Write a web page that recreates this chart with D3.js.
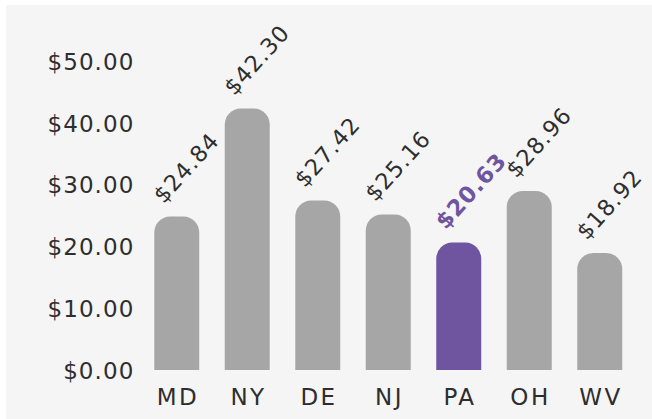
<!DOCTYPE html>
<html>
<head>
<meta charset="utf-8">
<script src="https://cdn.jsdelivr.net/npm/d3@7"></script>
<style>
  html, body { margin: 0; padding: 0; background: #ffffff; }
  svg { display: block; }
</style>
</head>
<body>
<script>
const categories = ["MD", "NY", "DE", "NJ", "PA", "OH", "WV"];
const values = [24.84, 42.30, 27.42, 25.16, 20.63, 28.96, 18.92];
const highlight = ["PA"];
const yTicks = [0, 10, 20, 30, 40, 50];

const W = 652, H = 419;
const FONT = "'DejaVu Sans', sans-serif";
const svg = d3.select("body").append("svg").attr("width", W).attr("height", H);

svg.append("rect").attr("x", 6).attr("y", 5).attr("width", W - 6).attr("height", H - 5).attr("fill", "#f5f5f5");

const x = d3.scaleBand().domain(categories).range([141.5, 635]).paddingInner(0.362).paddingOuter(0.181);
const y = d3.scaleLinear().domain([0, 50]).range([370, 61]);

const fmt = v => "$" + v.toFixed(2);

// Y axis
const yAxis = svg.append("g").attr("transform", "translate(134.5,0)")
  .call(d3.axisLeft(y).tickValues(yTicks).tickSize(0).tickPadding(0).tickFormat(fmt));
yAxis.select(".domain").remove();
yAxis.selectAll("text").attr("font-family", FONT).attr("font-size", 23)
  .attr("fill", "#2e2e2e").attr("letter-spacing", 1.1).attr("dy", "0.36em");

// X axis
const xAxis = svg.append("g").attr("transform", "translate(0,370)")
  .call(d3.axisBottom(x).tickSize(0).tickPadding(18.5));
xAxis.select(".domain").remove();
xAxis.selectAll("text").attr("font-family", FONT).attr("font-size", 23)
  .attr("fill", "#2e2e2e").attr("letter-spacing", 2.5).attr("dx", 1.25);

// Bars with rounded top corners
const r = 16;
function arcPath(d, i) {
  const x0 = x(categories[i]), w = x.bandwidth();
  const yt = y(d), yb = y(0);
  return `M${x0},${yb} L${x0},${yt + r} A${r},${r} 0 0 1 ${x0 + r},${yt} L${x0 + w - r},${yt} A${r},${r} 0 0 1 ${x0 + w},${yt + r} L${x0 + w},${yb} Z`;
}
svg.append("g").selectAll("path").data(values).join("path")
  .attr("d", arcPath)
  .attr("fill", (d, i) => highlight.includes(categories[i]) ? "#6f559f" : "#a6a6a6");

// Value labels
svg.append("g").selectAll("text").data(values).join("text")
  .attr("transform", (d, i) => `translate(${x(categories[i]) + x.bandwidth() / 2 - 13},${y(d) - 12}) rotate(-48)`)
  .attr("font-family", FONT)
  .attr("font-size", 22.5)
  .attr("letter-spacing", 1)
  .attr("font-weight", (d, i) => highlight.includes(categories[i]) ? "bold" : "normal")
  .attr("fill", (d, i) => highlight.includes(categories[i]) ? "#6f559f" : "#2e2e2e")
  .text(fmt);
</script>
</body>
</html>
